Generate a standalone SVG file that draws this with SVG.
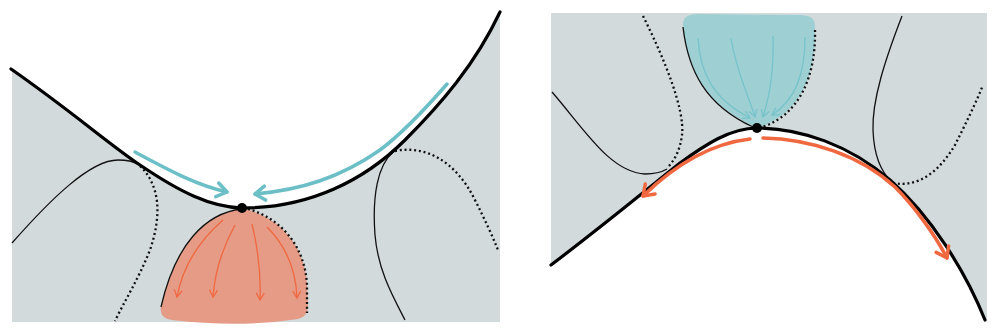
<svg xmlns="http://www.w3.org/2000/svg" width="997" height="336" viewBox="0 0 997 336">
<style>
.bg{fill:#d3dadb}
.main{fill:none;stroke:#000;stroke-width:3.2;stroke-linecap:round}
.thin{fill:none;stroke:#111;stroke-width:1.3}
.dot{fill:none;stroke:#111;stroke-width:2.3;stroke-dasharray:2 2.8}
.tealA{fill:none;stroke:#6cbfc6;stroke-width:3.5;stroke-linecap:round}
.orA{fill:none;stroke:#f06840;stroke-width:3.5;stroke-linecap:round}
.orS{fill:none;stroke:#f06840;stroke-width:1.3}
.tlS{fill:none;stroke:#76c3ca;stroke-width:1.3}
</style>
<defs>
<marker id="hOrS" viewBox="-10 -6 12 12" markerWidth="12" markerHeight="12" refX="0" refY="0" orient="auto" markerUnits="userSpaceOnUse"><path d="M-7,-4 L0,0 L-7,4" fill="none" stroke="#f06840" stroke-width="1.3"/></marker>
<marker id="hTlS" viewBox="-10 -6 12 12" markerWidth="12" markerHeight="12" refX="0" refY="0" orient="auto" markerUnits="userSpaceOnUse"><path d="M-7,-4 L0,0 L-7,4" fill="none" stroke="#76c3ca" stroke-width="1.3"/></marker>
<marker id="hTl" viewBox="-14 -10 16 20" markerWidth="16" markerHeight="20" refX="0" refY="0" orient="auto" markerUnits="userSpaceOnUse"><path d="M-10,-7 L0,0 L-10,7" fill="none" stroke="#6cbfc6" stroke-width="3.5" stroke-linecap="round" stroke-linejoin="round"/></marker>
<marker id="hOr" viewBox="-14 -10 16 20" markerWidth="16" markerHeight="20" refX="0" refY="0" orient="auto" markerUnits="userSpaceOnUse"><path d="M-10,-7 L0,0 L-10,7" fill="none" stroke="#f06840" stroke-width="3.5" stroke-linecap="round" stroke-linejoin="round"/></marker>
</defs>

<g id="left-panel">
<path class="bg" d="M12,69 C 70,110 110,145 140,165 C 180,192 210,207 242,208 C 310,208 365,180 405,140 C 440,105 475,65 500,12 L500,322 L12,322 Z"/>
<path d="M242,209 C 205,213 175,245 161,307 Q159,318 172,320 Q240,328 298,319 Q308,317 308,305 L307,285 C 305,245 280,218 245,209 Z" fill="#e59b86"/>
<path class="thin" d="M242,209 C 205,213 175,245 161,307"/>
<path class="dot" d="M248,209 C 280,218 305,245 307,285 L307,313"/>
<path class="thin" d="M12,243 C 50,200 90,160 118,160 C 127,160 133,161 137,164"/>
<path class="dot" d="M140,166 C 160,185 162,215 150,250 C 138,280 125,300 115,321"/>
<path class="thin" d="M393,152 C 378,165 372,195 375,235 C 378,270 392,295 405,320"/>
<path class="dot" d="M395,151 C 425,145 455,160 475,200 C 485,220 492,235 498,250"/>
<path class="orS" marker-end="url(#hOrS)" d="M223,220 C 200,240 183,265 177,297"/>
<path class="orS" marker-end="url(#hOrS)" d="M235,225 C 224,245 215,270 213,297"/>
<path class="orS" marker-end="url(#hOrS)" d="M252,224 C 257,245 261,275 260,300"/>
<path class="orS" marker-end="url(#hOrS)" d="M267,227 C 285,245 296,270 297,298"/>
<path class="main" d="M11,69 C 70,110 110,145 140,165 C 180,192 210,207 242,208 C 310,208 365,180 405,140 C 440,105 475,65 500,12"/>
<path class="tealA" marker-end="url(#hTl)" d="M135,152 C 165,168 195,185 227,192"/>
<path class="tealA" marker-end="url(#hTl)" d="M447,84 C 420,115 400,135 380,150 C 340,178 300,190 255,194"/>
<circle cx="242" cy="208" r="5" fill="#000"/>
</g>

<g id="right-panel">
<path class="bg" d="M551,265 C 600,228 640,195 680,163 C 705,145 730,128 757,128 C 800,128 850,145 890,180 C 930,215 965,270 985,320 L987,320 L987,13 L551,13 Z"/>
<path d="M683,27 C 688,70 705,105 757,128 C 800,115 816,75 815,30 L815,26 Q815,15 800,15 L698,14 Q683,14 683,24 Z" fill="#9ecfd3"/>
<path class="thin" d="M683,27 C 688,70 705,105 753,127"/>
<path class="dot" d="M815,30 C 816,75 800,115 762,127"/>
<path class="thin" d="M552,92 C 585,130 610,172 645,174 C 655,174 662,172 667,169"/>
<path class="dot" d="M643,16 C 665,60 685,110 682,135 C 680,150 675,160 667,168"/>
<path class="thin" d="M902,16 C 885,60 872,100 873,130 C 874,155 880,170 892,183"/>
<path class="dot" d="M893,183 C 920,188 940,170 955,145 C 965,125 975,105 983,85"/>
<path class="tlS" marker-end="url(#hTlS)" d="M698,38 C 700,75 715,100 750,118"/>
<path class="tlS" marker-end="url(#hTlS)" d="M731,38 C 736,70 748,95 755,117"/>
<path class="tlS" marker-end="url(#hTlS)" d="M773,36 C 774,65 770,95 763,117"/>
<path class="tlS" marker-end="url(#hTlS)" d="M805,37 C 805,75 795,100 772,115"/>
<path class="main" d="M551,265 C 600,228 640,195 680,163 C 705,145 730,128 757,128 C 800,128 850,145 890,180 C 930,215 965,270 985,320"/>
<path class="orA" marker-end="url(#hOr)" d="M750,139 C 715,143 680,160 643,196"/>
<path class="orA" marker-end="url(#hOr)" d="M763,138 C 810,139 860,155 895,187 C 915,207 935,235 947,258"/>
<circle cx="757" cy="128" r="5" fill="#000"/>
</g>
</svg>
